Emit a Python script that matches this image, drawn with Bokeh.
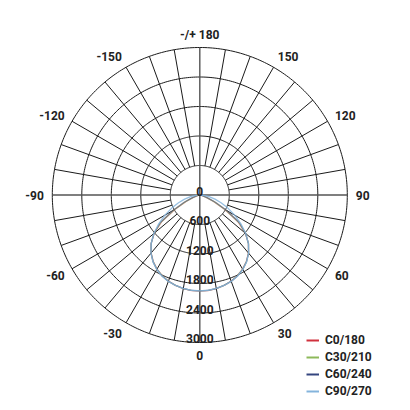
import numpy as np
from bokeh.plotting import figure
from bokeh.models import Legend, LegendItem, ColumnDataSource
from bokeh.embed import file_html
from bokeh.resources import INLINE
from bokeh.core.properties import value

# ---------------- data ----------------
gamma = [0, 5, 10, 15, 20, 25, 30, 35, 40, 45, 50, 55, 60, 65, 70, 75, 80, 85, 90]
c0_180 = [1955, 1950, 1935, 1905, 1865, 1810, 1740, 1650, 1540, 1400, 1210, 950, 580, 300, 130, 50, 20, 5, 0]
c30_210 = [1952, 1947, 1932, 1903, 1866, 1812, 1744, 1654, 1542, 1400, 1214, 965, 600, 320, 140, 55, 20, 5, 0]
c60_240 = [1950, 1946, 1931, 1904, 1868, 1816, 1747, 1657, 1544, 1400, 1217, 985, 640, 360, 170, 70, 25, 8, 0]
c90_270 = [1950, 1945, 1930, 1905, 1870, 1820, 1750, 1660, 1545, 1400, 1220, 1020, 820, 630, 460, 320, 190, 80, 0]
series_names = ["C0/180", "C30/210", "C60/240", "C90/270"]
series_values = [c0_180, c30_210, c60_240, c90_270]
series_colors = ["#d0313d", "#8db95a", "#34457f", "#84b4dc"]
series_alpha = [0.5, 0.55, 0.5, 0.85]

radial_ticks = [0, 600, 1200, 1800, 2400, 3000]
angle_ticks = [0, 30, 60, 90, 120, 150, 180, -150, -120, -90, -60, -30]
angle_labels = ["0", "30", "60", "90", "120", "150", "-/+ 180", "-150", "-120", "-90", "-60", "-30"]
spoke_step = 10

# ---------------- geometry ----------------
W = H = 402
R_PX = 147.5
RMAX = 3000.0
k = RMAX / R_PX            # data units per pixel
cx_page, cy_page = 199.3, 194.5
x0 = (0 - cx_page) * k
x1 = (W - cx_page) * k
y1 = (cy_page - 0) * k
y0 = -(H - cy_page) * k

def pol(r, deg):
    t = np.radians(deg)
    return r * np.sin(t), -r * np.cos(t)

p = figure(width=W, height=H, x_range=(x0, x1), y_range=(y0, y1),
           output_backend="svg", toolbar_location=None, min_border=0,
           background_fill_color="white", border_fill_color="white")
p.outline_line_color = None
p.axis.visible = False
p.grid.visible = False

FONT = value("Roboto")
TXT = "#222222"

# circles
for r in radial_ticks[1:]:
    th = np.linspace(0, 360, 361)
    xs, ys = pol(r, th)
    p.line(xs, ys, line_color="#1a1a1a", line_width=1)

# spokes
sx0, sy0, sx1, sy1 = [], [], [], []
for a in range(0, 360, spoke_step):
    if a % 90 == 0:
        continue
    xa, ya = pol(radial_ticks[1], a)
    xb, yb = pol(RMAX, a)
    sx0.append(xa); sy0.append(ya); sx1.append(xb); sy1.append(yb)
p.segment(sx0, sy0, sx1, sy1, line_color="#1a1a1a", line_width=1)
# main axes
p.segment([-RMAX, 0], [0, -RMAX], [RMAX, 0], [0, RMAX], line_color="#555555", line_width=1.4)

# curves
proxies = []
off = x1 * 3  # off-screen location for full-colour legend samples
for name, vals, col, al in zip(series_names, series_values, series_colors, series_alpha):
    angs = [-g for g in gamma[::-1]] + gamma[1:]
    rs = vals[::-1] + vals[1:]
    xs, ys = pol(np.array(rs, dtype=float), np.array(angs, dtype=float))
    p.line(xs, ys, line_color=col, line_width=1.3, line_alpha=al)
    proxies.append(p.line([off, off * 1.1], [0, 0], line_color=col, line_width=2))

# radial labels
ry = [-rt + 4 * k for rt in radial_ticks]
p.text([0] * len(radial_ticks), ry, text=[str(t) for t in radial_ticks],
       text_align="center", text_baseline="alphabetic", text_font=FONT,
       text_font_size="12px", text_font_style="bold", text_color=TXT)

# angle labels
RX, RY = 156 * k, 160 * k
groups = {"left": ([], [], []), "right": ([], [], []), "center": ([], [], [])}
for a, lab in zip(angle_ticks, angle_labels):
    t = np.radians(a)
    xx = RX * np.sin(t)
    yy = -RY * np.cos(t)
    if a in (0, 180):
        g = "center"
    elif a > 0:
        g = "left"
    else:
        g = "right"
    groups[g][0].append(xx); groups[g][1].append(yy); groups[g][2].append(lab)
for al, (xx, yy, tt) in groups.items():
    p.text(xx, yy, text=tt, text_align=al, text_baseline="middle", text_font=FONT,
           text_font_size="12px", text_font_style="bold", text_color=TXT)

legend = Legend(items=[LegendItem(label=n, renderers=[r]) for n, r in zip(series_names, proxies)],
                location=(306, 3))
legend.label_text_font = "Roboto"
legend.label_text_font_size = "12px"
legend.label_text_font_style = "bold"
legend.label_text_color = TXT
legend.glyph_width = 13
legend.glyph_height = 16
legend.label_height = 16
legend.spacing = 1
legend.padding = 0
legend.margin = 0
legend.label_standoff = 6
legend.border_line_alpha = 0
legend.background_fill_alpha = 0
p.add_layout(legend)

open("out.html", "w").write(file_html(p, INLINE))
